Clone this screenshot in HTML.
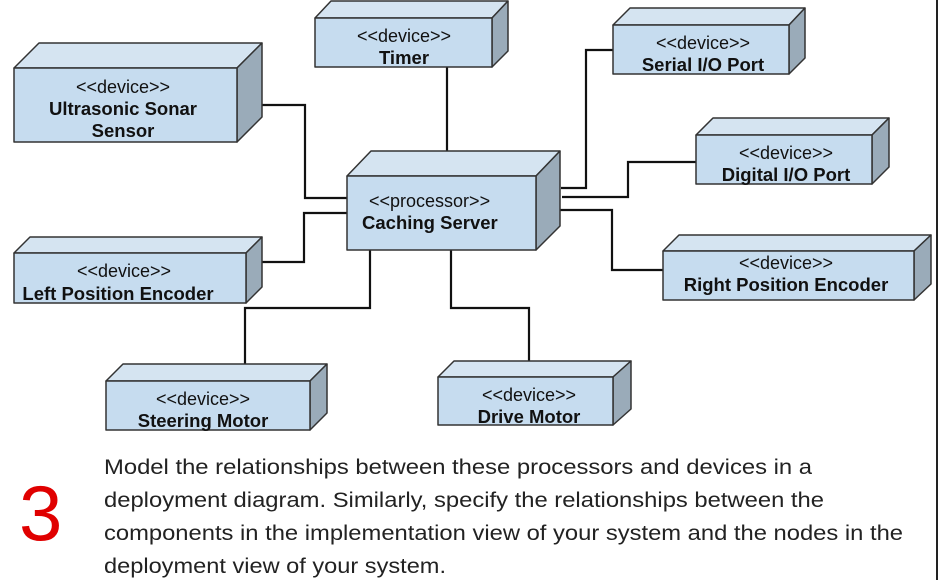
<!DOCTYPE html>
<html><head><meta charset="utf-8"><style>
html,body{margin:0;padding:0;background:#fff;}
svg{display:block;}
text{font-family:"Liberation Sans",Arial,sans-serif;fill:#111;}
.s{font-size:18px;}
.b{font-size:18.5px;font-weight:bold;}
.p{font-size:21px;fill:#222;}
</style></head><body>
<svg width="940" height="580" viewBox="0 0 940 580" xmlns="http://www.w3.org/2000/svg">
<g fill="none" stroke="#111" stroke-width="2.2">
<polyline points="237,105 305,105 305,198 347,198"/>
<polyline points="262,262 304,262 304,213 347,213"/>
<line x1="447" y1="67" x2="447" y2="152"/>
<polyline points="561,188 586,188 586,50 613,50"/>
<polyline points="562,197 628,197 628,162 696,162"/>
<polyline points="560,210 612,210 612,270 663,270"/>
<polyline points="370,250 370,308 245,308 245,364"/>
<polyline points="451,250 451,308 529,308 529,361"/>
</g>
<g stroke="#333" stroke-width="1.5" stroke-linejoin="round">
<polygon points="315,18 331,1 508,1 492,18" fill="#d5e4f1"/>
<polygon points="492,18 508,1 508,51 492,67" fill="#9aabb9"/>
<rect x="315" y="18" width="177" height="49" fill="#c6dcef"/>
<polygon points="14,68 39,43 262,43 237,68" fill="#d5e4f1"/>
<polygon points="237,68 262,43 262,117 237,142" fill="#9aabb9"/>
<rect x="14" y="68" width="223" height="74" fill="#c6dcef"/>
<polygon points="347,176 371,151 560,151 536,176" fill="#d5e4f1"/>
<polygon points="536,176 560,151 560,226 536,250" fill="#9aabb9"/>
<rect x="347" y="176" width="189" height="74" fill="#c6dcef"/>
<polygon points="613,25 630,8 805,8 789,25" fill="#d5e4f1"/>
<polygon points="789,25 805,8 805,58 789,74" fill="#9aabb9"/>
<rect x="613" y="25" width="176" height="49" fill="#c6dcef"/>
<polygon points="696,135 713,118 889,118 872,135" fill="#d5e4f1"/>
<polygon points="872,135 889,118 889,167 872,184" fill="#9aabb9"/>
<rect x="696" y="135" width="176" height="49" fill="#c6dcef"/>
<polygon points="663,251 679,235 931,235 914,251" fill="#d5e4f1"/>
<polygon points="914,251 931,235 931,284 914,300" fill="#9aabb9"/>
<rect x="663" y="251" width="251" height="49" fill="#c6dcef"/>
<polygon points="14,253 30,237 262,237 246,253" fill="#d5e4f1"/>
<polygon points="246,253 262,237 262,287 246,303" fill="#9aabb9"/>
<rect x="14" y="253" width="232" height="50" fill="#c6dcef"/>
<polygon points="106,381 123,364 327,364 310,381" fill="#d5e4f1"/>
<polygon points="310,381 327,364 327,413 310,430" fill="#9aabb9"/>
<rect x="106" y="381" width="204" height="49" fill="#c6dcef"/>
<polygon points="438,377 454,361 631,361 613,377" fill="#d5e4f1"/>
<polygon points="613,377 631,361 631,409 613,425" fill="#9aabb9"/>
<rect x="438" y="377" width="175" height="48" fill="#c6dcef"/>
</g>
<g text-anchor="middle">
<text class="s" x="404" y="42">&lt;&lt;device&gt;&gt;</text>
<text class="b" x="404" y="64">Timer</text>
<text class="s" x="123" y="93">&lt;&lt;device&gt;&gt;</text>
<text class="b" x="123" y="115">Ultrasonic Sonar</text>
<text class="b" x="123" y="137">Sensor</text>
<text class="s" x="703" y="49">&lt;&lt;device&gt;&gt;</text>
<text class="b" x="703" y="71">Serial I/O Port</text>
<text class="s" x="786" y="159">&lt;&lt;device&gt;&gt;</text>
<text class="b" x="786" y="181">Digital I/O Port</text>
<text class="s" x="786" y="269">&lt;&lt;device&gt;&gt;</text>
<text class="b" x="786" y="291">Right Position Encoder</text>
<text class="s" x="124" y="277">&lt;&lt;device&gt;&gt;</text>
<text class="b" x="118" y="300">Left Position Encoder</text>
<text class="s" x="203" y="405">&lt;&lt;device&gt;&gt;</text>
<text class="b" x="203" y="427">Steering Motor</text>
<text class="s" x="529" y="401">&lt;&lt;device&gt;&gt;</text>
<text class="b" x="529" y="423">Drive Motor</text>
</g>
<text class="s" x="369" y="207">&lt;&lt;processor&gt;&gt;</text>
<text class="b" x="362" y="229">Caching Server</text>
<text x="19" y="540" style="font-size:78px;fill:#e00000;">3</text>
<text class="p" x="104" y="474" textLength="708" lengthAdjust="spacingAndGlyphs">Model the relationships between these processors and devices in a</text>
<text class="p" x="104" y="507" textLength="720" lengthAdjust="spacingAndGlyphs">deployment diagram. Similarly, specify the relationships between the</text>
<text class="p" x="104" y="540" textLength="799" lengthAdjust="spacingAndGlyphs">components in the implementation view of your system and the nodes in the</text>
<text class="p" x="104" y="573" textLength="342" lengthAdjust="spacingAndGlyphs">deployment view of your system.</text>
<line x1="937" y1="0" x2="937" y2="580" stroke="#222" stroke-width="2"/>
</svg>
</body></html>
